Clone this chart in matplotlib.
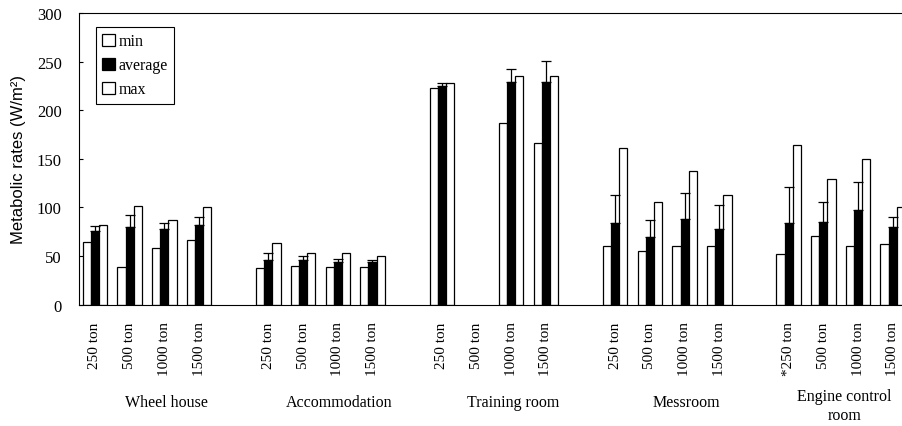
import numpy as np
import matplotlib.pyplot as plt

plt.rcParams['font.family'] = ['Liberation Serif', 'DejaVu Serif']

rooms = ["Wheel house", "Accommodation", "Training room", "Messroom", "Engine control\nroom"]
tonnage = ["250 ton", "500 ton", "1000 ton", "1500 ton"]
tick_labels = tonnage * 4 + ["*250 ton"] + tonnage[1:]

nan = np.nan
min_vals = [64, 39, 58, 66,
            37.5, 39.5, 39, 39,
            222.5, nan, 186.5, 166,
            60.5, 55.5, 60.5, 60,
            52, 70, 60, 62.5]
avg_vals = [76, 80, 78, 82,
            46, 45.5, 44, 43.5,
            225, nan, 228.5, 228.5,
            83.5, 69, 88.5, 77.5,
            84, 84.5, 97.5, 79.5]
max_vals = [82, 101, 87, 100.5,
            63, 53, 53, 50,
            227.5, nan, 235, 235,
            161.5, 105, 137, 112.5,
            164, 129, 149.5, 100]
avg_sd = [5, 12, 5.5, 8,
          7, 4.5, 3, 2.5,
          3, nan, 13.5, 22.5,
          29.5, 17.5, 26, 24.5,
          36.5, 21.5, 29, 10.5]

# 4 tonnage slots per room, rooms spaced 5 slots apart
x = np.array([g * 5 + i for g in range(len(rooms)) for i in range(len(tonnage))], dtype=float)
w = 0.235

fig = plt.figure(figsize=(9.03, 4.27), dpi=100)
ax = fig.add_axes([0.0875, 0.2845, 0.9395, 0.6827])

b_min = ax.bar(x - w, min_vals, w, color='white', edgecolor='black', linewidth=0.9, label='min')
b_avg = ax.bar(x, avg_vals, w, color='black', edgecolor='black', linewidth=0.9, label='average')
b_max = ax.bar(x + w, max_vals, w, color='white', edgecolor='black', linewidth=0.9, label='max')
ax.errorbar(x, avg_vals, yerr=[np.zeros(len(avg_sd)), avg_sd], fmt='none',
            ecolor='black', elinewidth=0.9, capsize=3.5, capthick=0.9)

ax.set_xlim(-0.46, 24)
ax.set_ylim(0, 300)
ax.set_yticks(np.arange(0, 301, 50))
ax.tick_params(axis='y', direction='in', length=3, width=0.8, pad=12.5, labelsize=12)
ax.set_xticks(x)
ax.set_xticklabels(tick_labels, rotation=90, fontsize=11)
ax.tick_params(axis='x', length=0, pad=12)
for s in ax.spines.values():
    s.set_linewidth(0.8)

ax.set_ylabel("Metabolic rates (W/m²)", fontsize=12, labelpad=8,
              family=['Liberation Sans', 'DejaVu Sans'])

label_x = [1.5 + 0.55, 6.5 + 0.55, 11.5 + 0.55, 16.5 + 0.55, 21.6]
label_y = [-0.307, -0.307, -0.307, -0.307, -0.285]
for lx, ly, name in zip(label_x, label_y, rooms):
    ax.text(lx, ly, name, transform=ax.get_xaxis_transform(), ha='center', va='top',
            fontsize=11.5, linespacing=1.25)

leg = ax.legend(handles=[b_min, b_avg, b_max], loc='upper left', bbox_to_anchor=(0.02, 0.952),
                borderaxespad=0, fontsize=11.5, handlelength=0.8, handleheight=0.8,
                handletextpad=0.2, labelspacing=0.5, borderpad=0.4, fancybox=False,
                framealpha=1, edgecolor='black')
leg.get_frame().set_linewidth(0.8)

fig.savefig('out.png', dpi=100)
